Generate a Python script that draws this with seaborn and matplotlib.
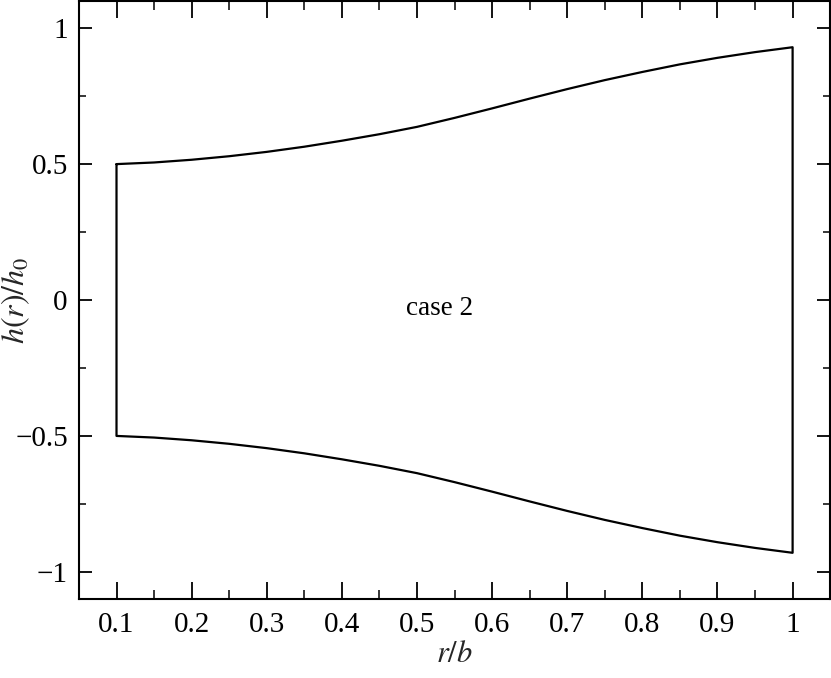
"""Plate thickness profile h(r)/h0 along r/b (case 2)."""
import numpy as np
import pandas as pd
import matplotlib
matplotlib.use("Agg")
import matplotlib.pyplot as plt
from matplotlib.ticker import MultipleLocator
import seaborn as sns

# r/b positions and the upper half-thickness
r_vals = [0.10, 0.15, 0.20, 0.25, 0.30, 0.35, 0.40, 0.45, 0.50, 0.55,
          0.60, 0.65, 0.70, 0.75, 0.80, 0.85, 0.90, 0.95, 1.00]
h_upper = [0.500, 0.506, 0.516, 0.529, 0.545, 0.564, 0.586, 0.610, 0.637, 0.670,
           0.705, 0.741, 0.776, 0.809, 0.839, 0.867, 0.891, 0.912, 0.930]
h_lower = [-v for v in h_upper]

case_label = "case 2"
x_ticks = [0.1, 0.2, 0.3, 0.4, 0.5, 0.6, 0.7, 0.8, 0.9, 1.0]
x_tick_labels = ["0.1", "0.2", "0.3", "0.4", "0.5", "0.6", "0.7", "0.8", "0.9", "1"]
y_ticks = [-1, -0.5, 0, 0.5, 1]
y_tick_labels = ["\u22121", "\u22120.5", "0", "0.5", "1"]

# closed outline: upper edge left->right, right wall, lower edge right->left, left wall
outline = pd.DataFrame({
    "r": r_vals + r_vals[::-1] + [r_vals[0]],
    "h": h_upper + h_lower[::-1] + [h_upper[0]],
})

sns.set_theme(style="ticks")
plt.rcParams["font.family"] = ["Liberation Serif", "DejaVu Serif"]
plt.rcParams["mathtext.fontset"] = "stix"

fig = plt.figure(figsize=(8.31, 6.78), dpi=100)
ax = fig.add_axes([0.095, 0.1165, 0.904, 0.882])

sns.lineplot(data=outline, x="r", y="h", sort=False, estimator=None,
             color="black", linewidth=1.6, ax=ax)

ax.text(0.53, -0.03, case_label, ha="center", va="center", fontsize=19.5, color="black")

ax.set_xlim(0.05, 1.05)
ax.set_ylim(-1.1, 1.1)
ax.set_xticks(x_ticks)
ax.set_xticklabels(x_tick_labels)
ax.set_yticks(y_ticks)
ax.set_yticklabels(y_tick_labels)
ax.xaxis.set_minor_locator(MultipleLocator(0.05))
ax.yaxis.set_minor_locator(MultipleLocator(0.25))

ax.tick_params(axis="x", which="major", direction="in", length=12.5, width=1.3,
               top=True, labelsize=21, pad=9, colors="black")
ax.tick_params(axis="x", which="minor", direction="in", length=6.5, width=1.3, top=True)
ax.tick_params(axis="y", which="major", direction="in", length=9.5, width=1.3,
               right=True, labelsize=21, pad=8, colors="black")
ax.tick_params(axis="y", which="minor", direction="in", length=5, width=1.3, right=True)

for sp in ax.spines.values():
    sp.set_linewidth(1.5)
    sp.set_color("black")

ax.set_xlabel("$r/b$", fontsize=22, labelpad=2)
ax.set_ylabel("$h(r)/h_0$", fontsize=23)
ax.yaxis.set_label_coords(-0.062, 0.5)

fig.savefig("out.png", dpi=100)
